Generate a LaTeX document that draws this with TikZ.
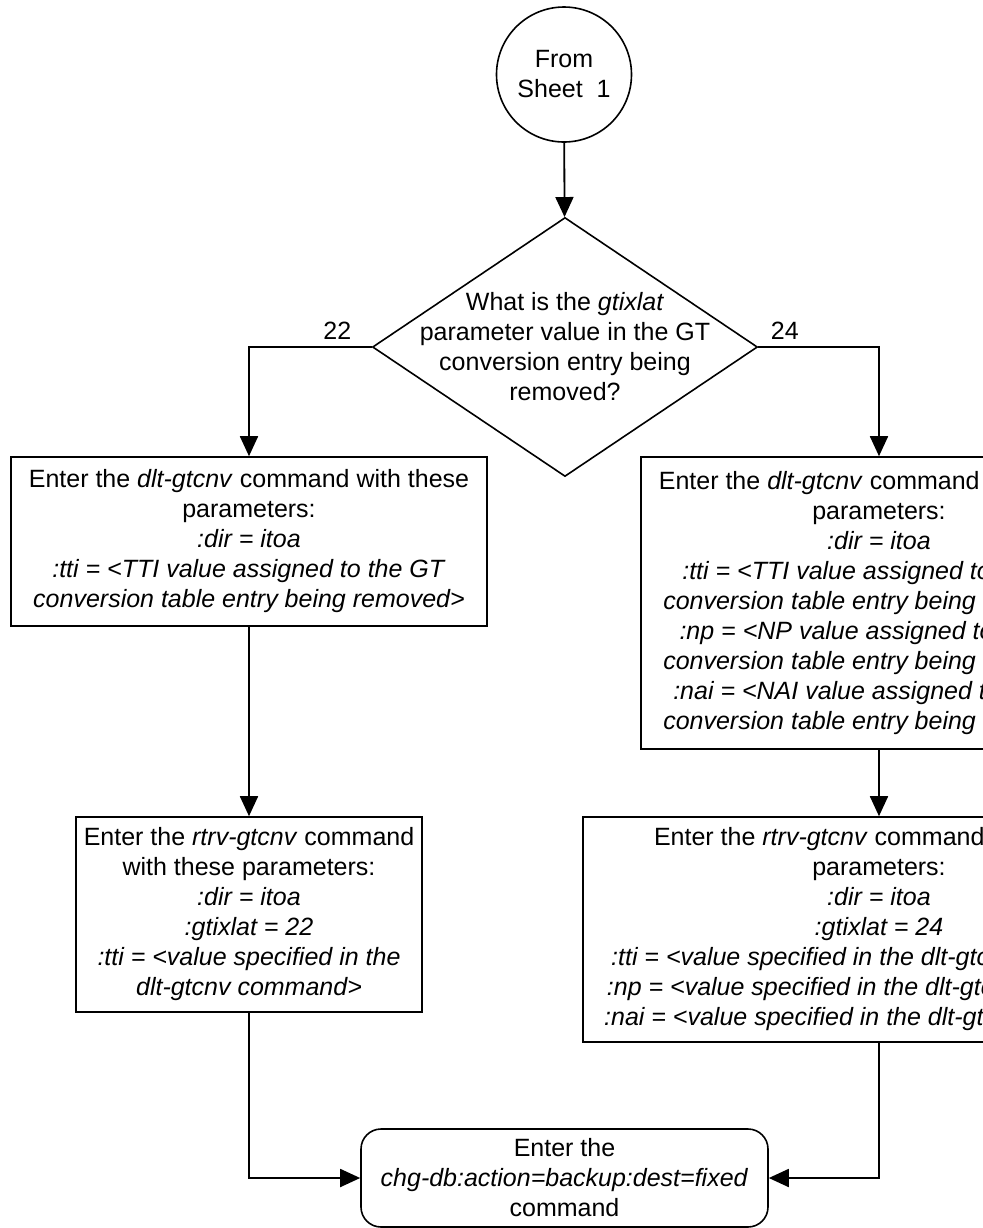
\documentclass[tikz,border=0pt]{standalone}
\usepackage{fontspec}
\setmainfont{Liberation Sans}
\usetikzlibrary{positioning,arrows.meta,shapes.geometric}

\begin{document}
\begin{tikzpicture}[
  x=0.5pt, y=-0.5pt,
  font=\fontsize{12.5}{15}\selectfont,
  start/.style={draw, circle, minimum size=67.5pt, inner sep=0pt, align=center, line width=0.8pt},
  decision/.style={draw, diamond, minimum width=192.5pt, minimum height=129.5pt, inner sep=0pt, line width=0.8pt},
  box/.style={draw, rectangle, align=center, inner sep=0pt, line width=0.8pt},
  term/.style={box, rounded corners=10pt},
  arrow/.style={-{Triangle[length=10pt, width=9pt]}, line width=0.9pt}
]
\useasboundingbox (0,0) rectangle (983,1228);
\clip (0,0) rectangle (983,1228);

\node[start] (from) at (564,74.5) {From\\Sheet\ \ 1};
\node[decision, label={[align=center]center:What is the \textit{gtixlat}\\parameter value in the GT\\conversion entry being\\removed?}] (q) at (565,347) {};

\node[box, minimum width=238pt, minimum height=84.5pt] (dlt22) at (249,541.5)
  {Enter the \textit{dlt-gtcnv} command with these\\parameters:\\\textit{:dir = itoa}\\\textit{:tti = <TTI value assigned to the GT}\\\textit{conversion table entry being removed>}};
\node[box, minimum width=238pt, minimum height=146pt] (dlt24) at (879,603)
  {Enter the \textit{dlt-gtcnv} command with these\\parameters:\\\textit{:dir = itoa}\\\textit{:tti = <TTI value assigned to the GT}\\\textit{conversion table entry being removed>}\\\textit{:np = <NP value assigned to the GT}\\\textit{conversion table entry being removed>}\\\textit{:nai = <NAI value assigned to the GT}\\\textit{conversion table entry being removed>}};

\node[box, minimum width=173pt, minimum height=97.5pt] (rtrv22) at (249,914.5)
  {Enter the \textit{rtrv-gtcnv} command\\with these parameters:\\\textit{:dir = itoa}\\\textit{:gtixlat = 22}\\\textit{:tti = <value specified in the}\\\textit{dlt-gtcnv command>}};
\node[box, minimum width=296pt, minimum height=112.5pt] (rtrv24) at (879,929.5)
  {Enter the \textit{rtrv-gtcnv} command with these\\parameters:\\\textit{:dir = itoa}\\\textit{:gtixlat = 24}\\\textit{:tti = <value specified in the dlt-gtcnv command>}\\\textit{:np = <value specified in the dlt-gtcnv command>}\\\textit{:nai = <value specified in the dlt-gtcnv command>}};

\node[term, minimum width=203.5pt, minimum height=49pt] (done) at (564.5,1178)
  {Enter the\\\textit{chg-db:action=backup:dest=fixed}\\command};

\draw[arrow] (from) -- (q);
\draw[arrow] (q.west) -| node[pos=0.14, above] {22} (dlt22.north);
\draw[arrow] (q.east) -| node[pos=0.11, above] {24} (dlt24.north);
\draw[arrow] (dlt22) -- (rtrv22);
\draw[arrow] (dlt24) -- (rtrv24);
\draw[arrow] (rtrv22.south) |- (done.west);
\draw[arrow] (rtrv24.south) |- (done.east);
\end{tikzpicture}
\end{document}
